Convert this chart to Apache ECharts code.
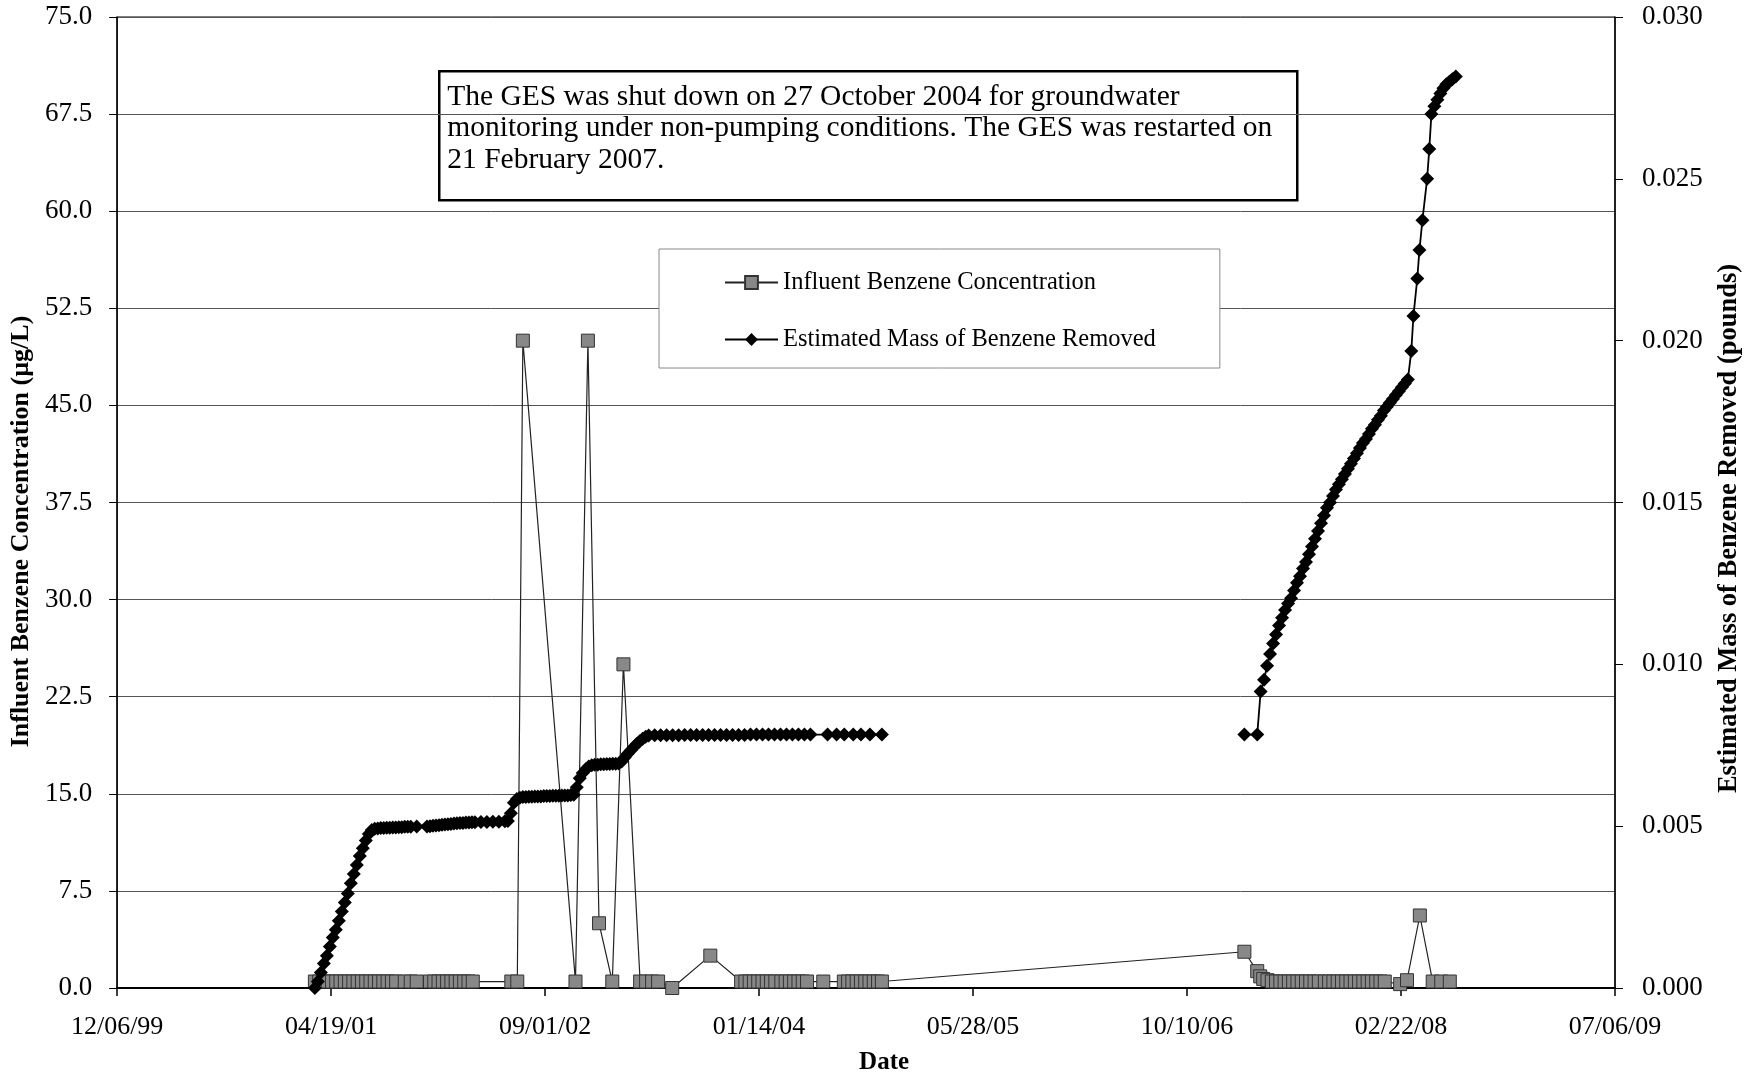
<!DOCTYPE html>
<html>
<head>
<meta charset="utf-8">
<script src="https://cdn.jsdelivr.net/npm/echarts@6/dist/echarts.min.js"></script>
<style>
html,body{margin:0;padding:0;background:#fff;}
#chart{width:1762px;height:1080px;}
</style>
</head>
<body>
<div id="chart"></div>
<script>
// Dates are Excel serial day numbers (36500 = 12/06/99)
const xTickMin = 36500, xTickMax = 40000, xTickStep = 500;
const leftTicks = {min: 0, max: 75, step: 7.5};
const rightTicks = {min: 0, max: 0.03, step: 0.005};

const influentName = 'Influent Benzene Concentration';
const massName = 'Estimated Mass of Benzene Removed';

const influentDates = [
  36962,36972,36982,36992,37002,37012,37022,37032,37042,37052,37062,37072,37082,37092,37102,37112,37122,37132,37142,37152,
  37172,37186,37200,
  37231,37241,37251,37261,37271,37281,37291,37301,37311,37321,37331,
  37421,37435,
  37448,
  37571,
  37600,
  37626,
  37657,
  37683,
  37722,37736,37750,37764,
  37797,
  37886,
  37958,37968,37978,37988,37998,38008,38018,38028,38038,
  38052,38062,38072,38082,38092,38102,38112,
  38150,
  38198,38208,38218,38228,38238,38248,38258,38268,38278,38287,
  39134,39164,39171,39178,39188,
  39198,39208,39218,39228,39238,39248,39258,39268,39278,39288,39298,39308,
  39322,39332,39342,39352,39362,39372,39382,39392,39402,39412,39422,39432,39442,39452,39462,
  39498,39514,39544,39574,39594,39614
];
const influentValues = [
  0.5,0.5,0.5,0.5,0.5,0.5,0.5,0.5,0.5,0.5,0.5,0.5,0.5,0.5,0.5,0.5,0.5,0.5,0.5,0.5,
  0.5,0.5,0.5,
  0.5,0.5,0.5,0.5,0.5,0.5,0.5,0.5,0.5,0.5,0.5,
  0.5,0.5,
  50,
  0.5,
  50,
  5.0,
  0.5,
  25,
  0.5,0.5,0.5,0.5,
  0.0,
  2.5,
  0.5,0.5,0.5,0.5,0.5,0.5,0.5,0.5,0.5,
  0.5,0.5,0.5,0.5,0.5,0.5,0.5,
  0.5,
  0.5,0.5,0.5,0.5,0.5,0.5,0.5,0.5,0.5,0.5,
  2.8,1.3,0.9,0.7,0.6,
  0.5,0.5,0.5,0.5,0.5,0.5,0.5,0.5,0.5,0.5,0.5,0.5,
  0.5,0.5,0.5,0.5,0.5,0.5,0.5,0.5,0.5,0.5,0.5,0.5,0.5,0.5,0.5,
  0.3,0.6,5.6,0.5,0.5,0.5
];

const massDates = [
  36962,36969,36976,36983,36990,36997,37004,37011,37018,37025,37032,37039,37046,37053,37060,37067,37074,37081,37088,37095,37102,
  37109,37116,37123,37130,37137,37144,37151,37158,37165,37172,37179,37186,37200,
  37224,37231,37238,37245,37252,37259,37266,37273,37280,37287,37294,37301,37308,37315,37322,37329,37336,37350,37364,37378,37392,37406,37413,
  37420,37427,37434,37441,37448,37455,37462,37469,37476,37483,37490,37497,37504,37511,37518,37525,37532,37539,37546,37553,37560,37567,
  37574,37581,37588,37595,37602,37609,37616,37623,37630,37637,37644,37651,37658,37665,37672,
  37679,37686,37693,37700,37707,37714,37721,37728,37735,37742,
  37756,37770,37784,37798,37812,37826,37840,37854,37868,37882,37896,37910,37924,37938,37952,37966,37980,37994,38008,38022,38036,38050,38064,38078,38092,38106,38120,
  38160,38181,38199,38220,38238,38259,38287,
  38700,
  39134,39164,39172,39180,39187,39194,39201,39208,39215,39222,39229,39236,39243,39250,39257,39264,39271,39278,39285,39292,39299,39306,
  39313,39320,39327,39334,39341,39348,39355,39362,39369,39376,39383,39390,39397,39404,39411,39418,39425,39432,39439,39446,39453,39460,
  39467,39474,39481,39488,39495,39502,39509,39516,
  39524,39529,39538,39543,39550,39561,39566,39571,39578,39585,39592,39599,39606,39613,39620,39628
];
const massValues = [
  0.00000,0.00020,0.00048,0.00076,0.00100,0.00128,0.00156,0.00180,0.00208,0.00236,0.00264,0.00292,0.00324,0.00352,0.00380,0.00408,0.00432,0.00456,0.00476,0.00488,0.00492,
  0.00493,0.00494,0.00494,0.00495,0.00495,0.00496,0.00496,0.00497,0.00497,0.00498,0.00498,0.00498,0.00499,
  0.00499,0.00500,0.00501,0.00502,0.00503,0.00504,0.00505,0.00506,0.00507,0.00508,0.00509,0.00510,0.00510,0.00511,0.00511,0.00512,0.00512,0.00513,0.00513,0.00514,0.00514,0.00515,0.00516,
  0.00540,0.00572,0.00584,0.00588,0.00590,0.00590,0.00591,0.00591,0.00592,0.00592,0.00592,0.00593,0.00593,0.00593,0.00594,0.00594,0.00594,0.00595,0.00595,0.00595,0.00596,0.00597,
  0.00620,0.00648,0.00664,0.00676,0.00684,0.00688,0.00690,0.00690,0.00691,0.00691,0.00692,0.00692,0.00693,0.00693,0.00694,
  0.00700,0.00712,0.00724,0.00734,0.00744,0.00754,0.00762,0.00770,0.00776,0.00780,
  0.00781,0.00781,0.00781,0.00781,0.00781,0.00782,0.00782,0.00782,0.00782,0.00782,0.00782,0.00782,0.00782,0.00782,0.00782,0.00782,0.00783,0.00783,0.00783,0.00783,0.00783,0.00783,0.00783,0.00783,0.00783,0.00783,0.00783,
  0.00783,0.00783,0.00783,0.00783,0.00783,0.00783,0.00783,
  null,
  0.00783,0.00783,0.00916,0.00952,0.00996,0.01032,0.01064,0.01092,0.01120,0.01144,0.01168,0.01188,0.01204,0.01228,0.01252,0.01272,0.01296,0.01316,0.01340,0.01364,0.01388,0.01412,
  0.01436,0.01460,0.01484,0.01500,0.01520,0.01540,0.01556,0.01572,0.01588,0.01604,0.01620,0.01636,0.01652,0.01668,0.01684,0.01696,0.01712,0.01728,0.01740,0.01756,0.01768,0.01784,
  0.01796,0.01808,0.01820,0.01832,0.01844,0.01856,0.01868,0.01880,
  0.01968,0.02076,0.02192,0.02280,0.02372,0.02500,0.02592,0.02700,0.02724,0.02744,0.02764,0.02780,0.02792,0.02800,0.02808,0.02816
];

const noteLines = [
  'The GES was shut down on 27 October 2004 for groundwater',
  'monitoring under non-pumping conditions. The GES was restarted on',
  '21 February 2007.'
];

function serialToLabel(v) {
  const d = new Date(Date.UTC(1899, 11, 30) + v * 86400000);
  const p = n => String(n).padStart(2, '0');
  return p(d.getUTCMonth() + 1) + '/' + p(d.getUTCDate()) + '/' + p(d.getUTCFullYear() % 100);
}

const FONT = 'Liberation Serif';
const chart = echarts.init(document.getElementById('chart'), null, {renderer: 'canvas'});

const option = {
  animation: false,
  backgroundColor: '#fff',
  grid: {left: 117, right: 147, top: 17, bottom: 80, show: true, borderColor: '#000', borderWidth: 1},
  legend: {
    data: [influentName, massName],
    orient: 'vertical',
    left: 659, top: 249,
    padding: [21, 64, 16, 65],
    itemGap: 32,
    itemWidth: 53,
    itemHeight: 16,
    borderColor: '#888', borderWidth: 1,
    backgroundColor: '#fff',
    textStyle: {fontFamily: FONT, fontSize: 24.5, color: '#000'}
  },
  xAxis: {
    type: 'value',
    min: xTickMin, max: xTickMax, interval: xTickStep,
    name: 'Date', nameLocation: 'middle', nameGap: 62,
    nameTextStyle: {fontFamily: FONT, fontSize: 25, fontWeight: 'bold', color: '#000', padding: [0, 0, 0, 36]},
    axisLine: {show: true, onZero: false, lineStyle: {color: '#000', width: 2}},
    axisTick: {show: true, length: 8, lineStyle: {color: '#000', width: 1.5}},
    axisLabel: {formatter: serialToLabel, margin: 26, fontFamily: FONT, fontSize: 26, color: '#000'},
    splitLine: {show: false}
  },
  yAxis: [
    {
      type: 'value', position: 'left',
      min: leftTicks.min, max: leftTicks.max, interval: leftTicks.step,
      name: 'Influent Benzene Concentration (\u00b5g/L)', nameLocation: 'middle', nameRotate: 90, nameGap: 76,
      nameTextStyle: {fontFamily: FONT, fontSize: 26, fontWeight: 'bold', color: '#000', padding: [0, 58, 0, 0]},
      axisLine: {show: true, lineStyle: {color: '#000', width: 1.5}},
      axisTick: {show: true, length: 8, lineStyle: {color: '#000'}},
      axisLabel: {formatter: v => v.toFixed(1), margin: 25, fontFamily: FONT, fontSize: 27, color: '#000'},
      splitLine: {show: true, lineStyle: {color: '#555', width: 1}}
    },
    {
      type: 'value', position: 'right',
      min: rightTicks.min, max: rightTicks.max, interval: rightTicks.step,
      name: 'Estimated Mass of Benzene Removed (pounds)', nameLocation: 'middle', nameRotate: 90, nameGap: 101,
      nameTextStyle: {fontFamily: FONT, fontSize: 26.5, fontWeight: 'bold', color: '#000', padding: [0, 52, 0, 0]},
      axisLine: {show: true, lineStyle: {color: '#000', width: 1.5}},
      axisTick: {show: true, length: 8, lineStyle: {color: '#000'}},
      axisLabel: {formatter: v => v.toFixed(3), margin: 27, fontFamily: FONT, fontSize: 27, color: '#000'},
      splitLine: {show: false}
    }
  ],
  graphic: [{
    type: 'group', left: 438, top: 70,
    children: [
      {type: 'rect', shape: {x: 0, y: 0, width: 858, height: 129}, style: {fill: '#fff', stroke: '#000', lineWidth: 2.5}},
      {type: 'text', left: 8, top: 10, style: {text: noteLines.join('\n'), font: '29.5px "Liberation Serif"', lineHeight: 31.5, fill: '#000'}}
    ]
  }],
  series: [
    {
      name: influentName, type: 'line', yAxisIndex: 0,
      data: influentDates.map((d, i) => [d, influentValues[i]]),
      symbol: 'rect', symbolSize: 13,
      itemStyle: {color: '#888', borderColor: '#333', borderWidth: 1},
      lineStyle: {color: '#222', width: 1.2},
      z: 3
    },
    {
      name: massName, type: 'line', yAxisIndex: 1,
      data: massDates.map((d, i) => [d, massValues[i]]),
      connectNulls: false,
      symbol: 'path://M0,-1 L1,0 L0,1 L-1,0 Z', symbolSize: 14,
      itemStyle: {color: '#000'},
      lineStyle: {color: '#000', width: 1.8},
      z: 4
    }
  ]
};
chart.setOption(option);
</script>
</body>
</html>
